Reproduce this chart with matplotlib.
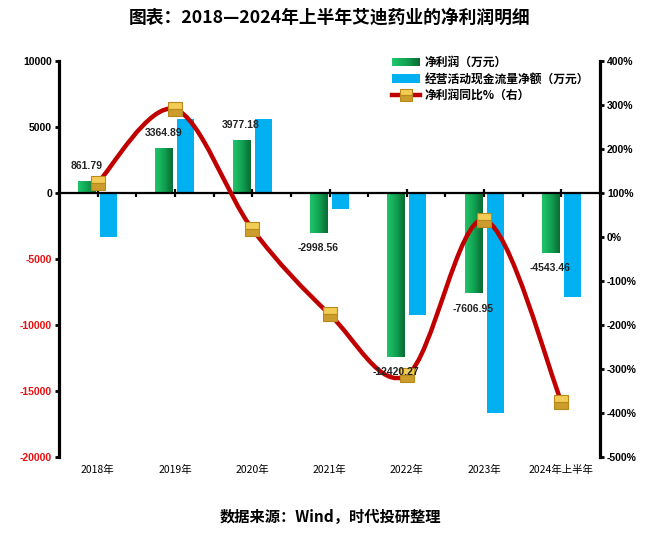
import numpy as np
import matplotlib
matplotlib.use('Agg')
import matplotlib.pyplot as plt
from matplotlib.path import Path
from matplotlib.patches import PathPatch, Rectangle, Patch
from matplotlib.legend_handler import HandlerBase
from matplotlib.lines import Line2D
from matplotlib.colors import LinearSegmentedColormap
from matplotlib.transforms import blended_transform_factory

# ---------------- data ----------------
categories = ['2018年', '2019年', '2020年', '2021年', '2022年', '2023年', '2024年上半年']
net_profit = [861.79, 3364.89, 3977.18, -2998.56, -12420.27, -7606.95, -4543.46]
op_cash_flow = [-3330, 5600, 5580, -1240, -9240, -16700, -7870]
profit_yoy = [123, 290.5, 18.2, -175.4, -314.2, 38.8, -374]

left_ticks = [10000, 5000, 0, -5000, -10000, -15000, -20000]
right_ticks = [400, 300, 200, 100, 0, -100, -200, -300, -400, -500]

series_names = ['净利润（万元）', '经营活动现金流量净额（万元）', '净利润同比%（右）']
title = '图表：2018—2024年上半年艾迪药业的净利润明细'
source = '数据来源：Wind，时代投研整理'

CJK = ['Noto Sans CJK SC', 'DejaVu Sans']
NUM = ['Liberation Sans', 'DejaVu Sans']

GREEN_L, GREEN_M, GREEN_D = '#1fc56a', '#12a352', '#0a6a34'
BLUE = '#00B0F0'
RED = '#C00000'

green_cmap = LinearSegmentedColormap.from_list('g', [GREEN_L, GREEN_M, GREEN_D])

fig = plt.figure(figsize=(6.6, 5.42), dpi=100)
ax = fig.add_axes([59 / 660, 1 - 457 / 542, 541 / 660, 396 / 542])
ax2 = ax.twinx()

x = np.arange(len(categories))
w = 0.22
off = 0.143

green_bars = ax.bar(x - off, net_profit, w, color='none', edgecolor='none', zorder=2)
blue_bars = ax.bar(x + off, op_cash_flow, w, color=BLUE, edgecolor='none', zorder=2)

grad = np.linspace(0, 1, 64).reshape(1, -1)
for p in green_bars:
    x0, y0 = p.get_x(), p.get_y()
    x1, y1 = x0 + p.get_width(), y0 + p.get_height()
    ax.imshow(grad, extent=(x0, x1, min(y0, y1), max(y0, y1)), cmap=green_cmap,
              aspect='auto', zorder=2, interpolation='bicubic')

ax.set_xlim(-0.5, len(categories) - 0.5)
ax.set_ylim(-20000, 10000)
ax2.set_ylim(-500, 400)

# spines
for s in ['top', 'right']:
    ax.spines[s].set_visible(False)
ax.spines['left'].set_linewidth(2.3)
ax.spines['bottom'].set_position(('data', 0))
ax.spines['bottom'].set_linewidth(1.6)
for s in ['top', 'left', 'bottom']:
    ax2.spines[s].set_visible(False)
ax2.spines['right'].set_linewidth(2.3)

# x ticks on the zero line
ax.set_xticks(x)
ax.set_xticklabels([''] * len(x))
ax.set_xticks(x[:-1] + 0.5, minor=True)
ax.tick_params(axis='x', which='major', direction='inout', length=6, width=1.6)
ax.tick_params(axis='x', which='minor', direction='out', length=3, width=1.6)

tr = blended_transform_factory(ax.transData, ax.transAxes)
for xi, c in zip(x, categories):
    ax.text(xi, -0.033, c, transform=tr, ha='center', va='center', fontsize=7.5,
            family=CJK)

# left y
ax.set_yticks(left_ticks)
ax.set_yticklabels([str(v) for v in left_ticks])
ax.tick_params(axis='y', direction='out', length=3, width=2, pad=2)
for lab, v in zip(ax.get_yticklabels(), left_ticks):
    lab.set_fontfamily(NUM)
    lab.set_fontweight('bold')
    lab.set_fontsize(7.5)
    lab.set_color('#E81010' if v < 0 else 'black')

# right y
ax2.set_yticks(right_ticks)
ax2.set_yticklabels([f'{v}%' for v in right_ticks])
ax2.tick_params(axis='y', direction='out', length=3, width=2, pad=2)
for lab in ax2.get_yticklabels():
    lab.set_fontfamily(NUM)
    lab.set_fontweight('bold')
    lab.set_fontsize(7.5)

# smoothed line (Catmull-Rom style bezier through the data points)
pts = np.column_stack([x, profit_yoy]).astype(float)
verts = [pts[0]]
codes = [Path.MOVETO]
n = len(pts)
for i in range(n - 1):
    p0 = pts[i - 1] if i > 0 else pts[i]
    p1 = pts[i]
    p2 = pts[i + 1]
    p3 = pts[i + 2] if i + 2 < n else pts[i + 1]
    c1 = p1 + (p2 - p0) / 6
    c2 = p2 - (p3 - p1) / 6
    verts += [c1, c2, p2]
    codes += [Path.CURVE4] * 3
ax2.add_patch(PathPatch(Path(verts, codes), fill=False, edgecolor=RED, lw=3.2,
                        capstyle='round', zorder=3))
ax2.plot(x, profit_yoy, ls='none', marker='s', ms=10, mfc='#F2CC55',
         mfcalt='#CC9C2C', fillstyle='top', mec='#B88A1A', mew=0.8, zorder=4)

# data labels for net profit
for p, v in zip(green_bars, net_profit):
    cx = p.get_x() + p.get_width() / 2
    ax2.annotate(f'{v:.2f}', xy=(cx, v), xycoords=ax.transData,
                 xytext=(0, 11 if v >= 0 else -11), textcoords='offset points',
                 ha='center', va='center', fontsize=7.5, fontweight='bold',
                 family=NUM, color='#222222', zorder=6)


class GradHandler(HandlerBase):
    def create_artists(self, legend, orig_handle, xdescent, ydescent, width,
                       height, fontsize, trans):
        k = 24
        cols = green_cmap(np.linspace(0, 1, k))
        arts = []
        for i in range(k):
            arts.append(Rectangle((-xdescent + width * i / k, -ydescent),
                                  width / k * 1.08, height, facecolor=cols[i],
                                  edgecolor='none', transform=trans))
        return arts


green_proxy = Patch(facecolor=GREEN_M)
blue_proxy = Patch(facecolor=BLUE)
line_proxy = Line2D([], [], color=RED, lw=3.2, marker='s', ms=8, mfc='#F2CC55',
                    mfcalt='#CC9C2C', fillstyle='top', mec='#B88A1A', mew=0.8)
fig.legend([green_proxy, blue_proxy, line_proxy], series_names,
           handler_map={green_proxy: GradHandler()},
           loc='upper left', bbox_to_anchor=(392 / 660, 1 - 56 / 542),
           frameon=False, borderpad=0, borderaxespad=0, handlelength=2.4,
           handletextpad=0.4, labelspacing=0.3, numpoints=1,
           prop={'family': CJK, 'weight': 'bold', 'size': 8.5})

fig.text(0.5, 1 - 18 / 542, title, ha='center', va='center', fontsize=12.8,
         fontweight='bold', family=CJK)
fig.text(0.5, 1 - 517 / 542, source, ha='center', va='center', fontsize=11,
         fontweight='bold', family=CJK)

fig.savefig('out.png', dpi=100)
